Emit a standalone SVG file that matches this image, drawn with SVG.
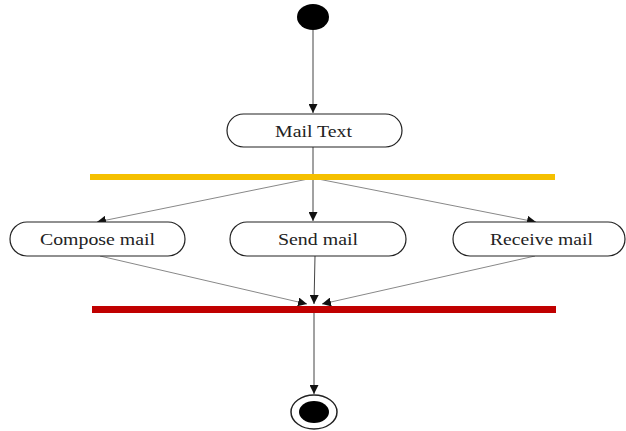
<svg xmlns="http://www.w3.org/2000/svg" width="626" height="431" viewBox="0 0 626 431">
<style>
.node{fill:#fff;stroke:#222;stroke-width:1.2}
.lbl{font-family:"Liberation Serif",serif;font-size:16px;fill:#222;text-anchor:middle}
.c{fill:none;stroke:#444;stroke-width:1}
.cg{fill:none;stroke:#888;stroke-width:1}
</style>
<defs>
<marker id="ah" viewBox="0 0 10 10" refX="10" refY="5" markerWidth="9" markerHeight="9" markerUnits="userSpaceOnUse" orient="auto">
<path d="M0,0 L10,5 L0,10 z" fill="#111"/>
</marker>
</defs>
<rect width="626" height="431" fill="#fff"/>
<g id="connectors">
<line class="c" x1="313" y1="30" x2="313" y2="113" marker-end="url(#ah)"/>
<line class="c" x1="313" y1="147" x2="313" y2="177"/>
<line class="cg" x1="313" y1="178" x2="97" y2="222" marker-end="url(#ah)"/>
<line class="c" x1="313" y1="178" x2="313" y2="221" marker-end="url(#ah)"/>
<line class="cg" x1="313" y1="178" x2="536" y2="222" marker-end="url(#ah)"/>
<line class="cg" x1="100" y1="256" x2="307" y2="304" marker-end="url(#ah)"/>
<line class="c" x1="315" y1="256" x2="314" y2="304" marker-end="url(#ah)"/>
<line class="cg" x1="535" y1="256" x2="322" y2="304" marker-end="url(#ah)"/>
<line class="c" x1="314" y1="312" x2="314" y2="394" marker-end="url(#ah)"/>
</g>
<g id="start"><ellipse cx="313" cy="17" rx="16" ry="13" fill="#000"/></g>
<g id="mail-text"><rect class="node" x="227" y="114" width="175" height="33" rx="16.5"/><text class="lbl" x="313.5" y="137" textLength="77" lengthAdjust="spacingAndGlyphs">Mail Text</text></g>
<g id="fork"><rect x="90" y="174" width="465" height="6" fill="#F5C000"/></g>
<g id="compose-mail"><rect class="node" x="10" y="222" width="175" height="34" rx="17"/><text class="lbl" x="97.5" y="245" textLength="115" lengthAdjust="spacingAndGlyphs">Compose mail</text></g>
<g id="send-mail"><rect class="node" x="230" y="222" width="176" height="34" rx="17"/><text class="lbl" x="318" y="245" textLength="80" lengthAdjust="spacingAndGlyphs">Send mail</text></g>
<g id="receive-mail"><rect class="node" x="453" y="222" width="172" height="34" rx="17"/><text class="lbl" x="541.5" y="245" textLength="103" lengthAdjust="spacingAndGlyphs">Receive mail</text></g>
<g id="join"><rect x="92" y="306" width="464" height="7" fill="#C00000"/></g>
<g id="end"><ellipse cx="314" cy="412" rx="23" ry="17" fill="#fff" stroke="#222" stroke-width="1.5"/><ellipse cx="314" cy="412" rx="15" ry="11" fill="#000"/></g>
</svg>
